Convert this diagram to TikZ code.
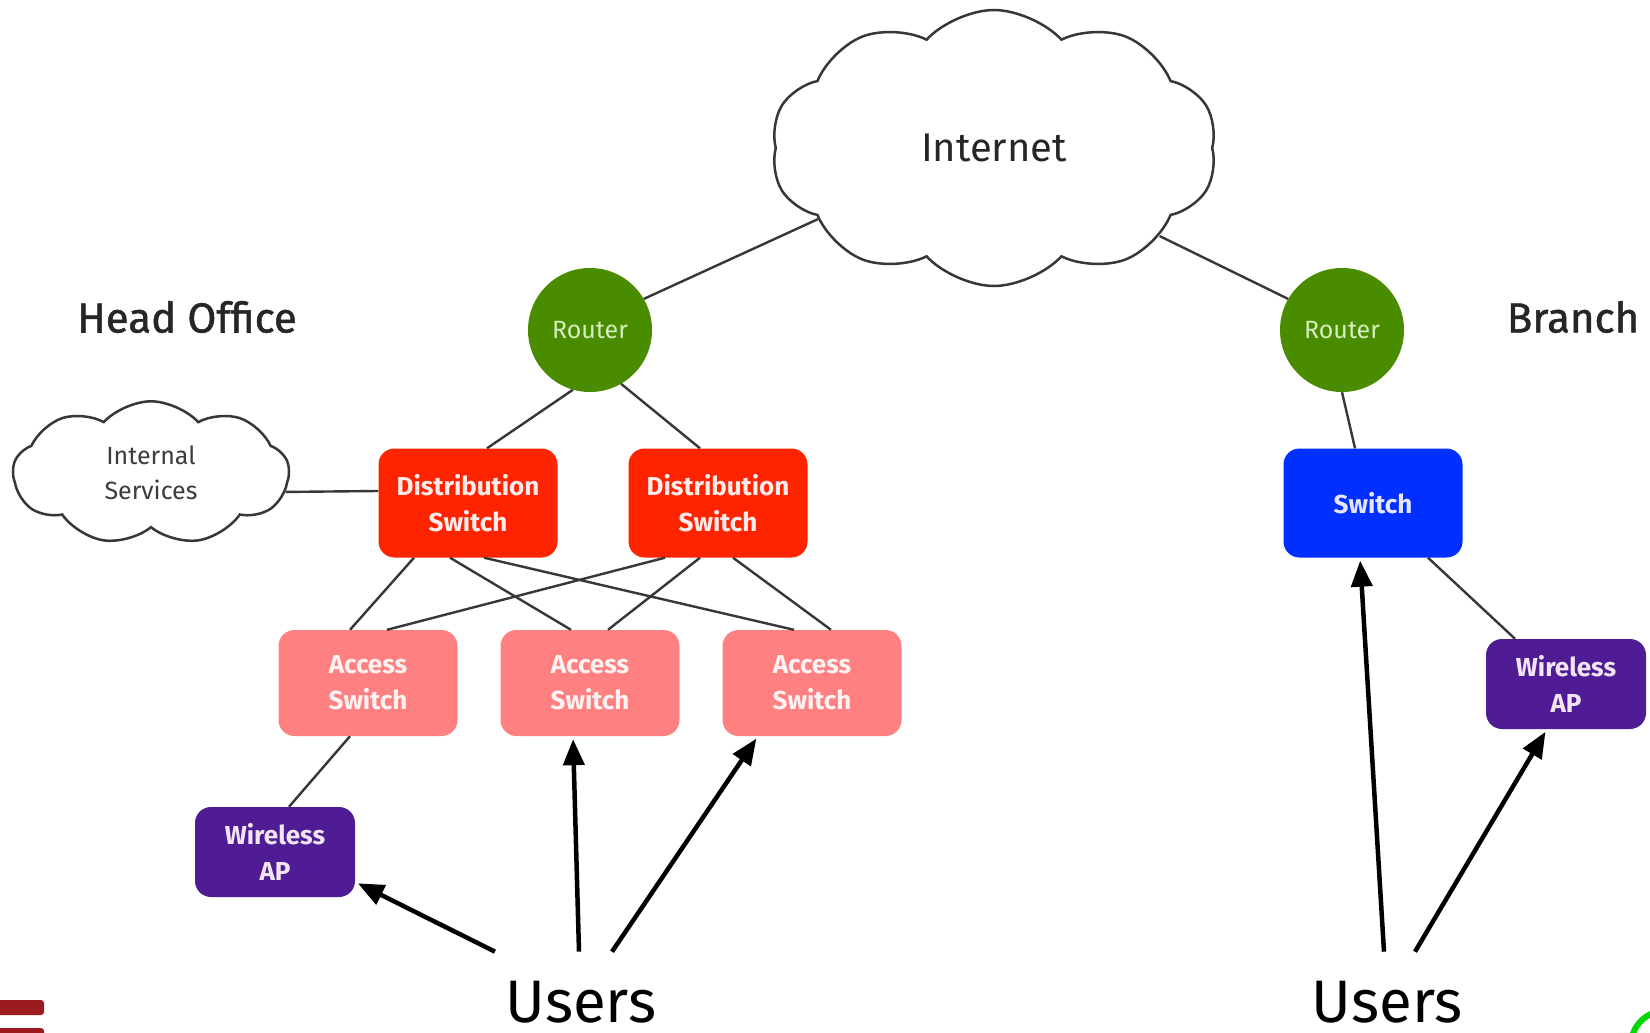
\documentclass[tikz,border=0pt]{standalone}
\usepackage{fontspec}
\setmainfont{Fira Sans}
\newfontfamily\headfont[FakeBold=1.2]{Fira Sans}
\usetikzlibrary{positioning,shapes.symbols,arrows.meta}

\definecolor{distred}{RGB}{255,36,0}
\definecolor{accpink}{RGB}{255,128,128}
\definecolor{appurple}{RGB}{80,28,150}
\definecolor{swblue}{RGB}{0,48,255}
\definecolor{rtgreen}{RGB}{74,140,0}
\definecolor{rttext}{RGB}{214,236,190}
\definecolor{linegray}{RGB}{55,55,55}
\definecolor{cloudtext}{RGB}{60,60,60}
\definecolor{barred}{RGB}{155,27,30}

\tikzset{
  box/.style={rounded corners=16pt, align=center, inner sep=0pt,
    minimum width=179pt, minimum height=109pt,
    font=\fontsize{26}{36}\selectfont\bfseries},
  distsw/.style={box, fill=distred, text=white!92!red},
  accsw/.style={box, fill=accpink, text=white!95!red, minimum height=106pt},
  brsw/.style={box, fill=swblue, text=white!90!blue},
  wap/.style={box, fill=appurple, text=white!90!violet,
    minimum width=160pt, minimum height=90pt},
  router/.style={circle, fill=rtgreen, text=rttext, minimum size=124pt,
    inner sep=0pt, font=\fontsize{25}{30}\selectfont},
  netcloud/.style={cloud, draw=linegray, line width=2.5pt, fill=white,
    cloud puff arc=95, text=black!85, inner sep=0pt},
  lbl/.style={inner sep=0pt, text=black!85, font=\fontsize{42}{50}\headfont},
  users/.style={inner sep=0pt, outer ysep=29pt, anchor=base,
    font=\fontsize{60}{68}\selectfont},
  link/.style={draw=linegray, line width=2.4pt},
  userarrow/.style={line width=4.5pt, -{Triangle[length=26pt,width=21pt]},
    shorten >=3pt}
}

\begin{document}
\begin{tikzpicture}[x=1pt,y=-1pt]
  \useasboundingbox (0,0) rectangle (1650,1033);
  \fill[white] (0,0) rectangle (1650,1033);

  \node[netcloud, cloud puffs=10, minimum width=446pt, minimum height=276pt,
        font=\fontsize{40}{48}\selectfont] (inet) at (994,148) {Internet};
  \node[netcloud, cloud puffs=9, minimum width=276pt, minimum height=140pt,
        text=cloudtext, align=center, font=\fontsize{25}{35}\selectfont]
        (isvc) at (151,473) {Internal\\Services};

  \node[lbl] (ho) at (187,317) {Head Office};
  \node[lbl] (br) at (1573,317) {Branch};

  \node[router] (rtrL) at (590,330) {Router};
  \node[router] (rtrR) at (1342,330) {Router};

  \node[distsw] (ds1) at (468,503) {Distribution\\Switch};
  \node[distsw] (ds2) at (718,503) {Distribution\\Switch};
  \node[accsw] (as1) at (368,683) {Access\\Switch};
  \node[accsw] (as2) at (590,683) {Access\\Switch};
  \node[accsw] (as3) at (812,683) {Access\\Switch};
  \node[wap] (apL) at (275,852) {Wireless\\AP};

  \node[brsw] (sw) at (1373,503) {Switch};
  \node[wap] (apR) at (1566,684) {Wireless\\AP};

  \node[users] (usrL) at (581,1022) {Users};
  \node[users] (usrR) at (1387,1022) {Users};

  % uplinks
  \draw[link] (inet.202) -- (rtrL.30);
  \draw[link] (inet.332) -- (rtrR.150);
  \draw[link] (rtrL.254) -- ([xshift=19pt]ds1.north);
  \draw[link] (rtrL.300) -- ([xshift=-18pt]ds2.north);
  \draw[link] (rtrR.south) -- ([xshift=-18pt]sw.north);
  \draw[link] (isvc.352) -- ([yshift=12pt]ds1.west);

  % distribution to access
  \foreach \d/\dx/\a/\ax in {ds1/-54/as1/-18, ds1/-18/as2/-19, ds1/16/as3/-18,
                              ds2/-53/as1/19, ds2/-18/as2/18, ds2/15/as3/19}
    \draw[link] ([xshift=\dx pt]\d.south) -- ([xshift=\ax pt]\a.north);
  \draw[link] ([xshift=-18pt]as1.south) -- ([xshift=14pt]apL.north);
  \draw[link] ([xshift=55pt]sw.south) -- ([xshift=-51pt]apR.north);

  % users
  \draw[userarrow] ([xshift=-86pt]usrL.north) -- ([yshift=-30pt]apL.east);
  \draw[userarrow] ([xshift=-2pt]usrL.north) -- ([xshift=-17pt]as2.south);
  \draw[userarrow] ([xshift=31pt]usrL.north) -- ([xshift=-54pt]as3.south);
  \draw[userarrow] ([xshift=-3pt]usrR.north) -- ([xshift=-13pt]sw.south);
  \draw[userarrow] ([xshift=28pt]usrR.north) -- ([xshift=-19pt]apR.south);

  % slide edge marks
  \fill[barred, rounded corners=3pt] (-10,1000) rectangle (44,1015);
  \fill[barred, rounded corners=3pt] (-10,1028) rectangle (44,1045);
  \draw[green!85!black, line width=6pt] (1665,1045) circle (34);
\end{tikzpicture}
\end{document}
